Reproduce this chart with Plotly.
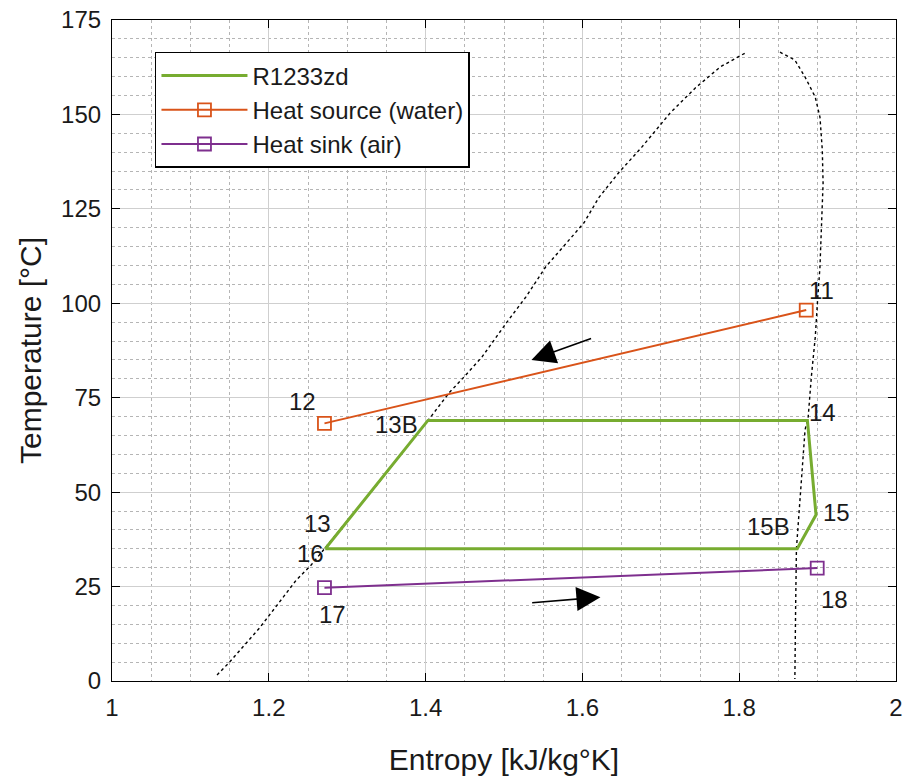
import plotly.graph_objects as go

# ---- data ----
cycle_s = [1.272, 1.403, 1.887, 1.898, 1.874, 1.272]
cycle_T = [35, 69, 69, 44, 35, 35]

source_s = [1.8855, 1.271]
source_T = [98.2, 68.2]

sink_s = [1.271, 1.8995]
sink_T = [24.7, 29.9]

dome_left_s = [1.134, 1.150, 1.169, 1.188, 1.201, 1.218, 1.235, 1.254, 1.271, 1.338, 1.405,
               1.430, 1.449, 1.472, 1.503, 1.528, 1.553, 1.602, 1.621, 1.646, 1.676, 1.712,
               1.744, 1.776, 1.808]
dome_left_T = [1.6, 5.0, 9.5, 14.0, 17.5, 22.0, 26.7, 30.7, 35.0, 52.0, 69.5,
               76.3, 80.5, 85.8, 94.8, 101.7, 109.6, 121.3, 128.0, 134.5, 141.4, 150.4,
               157.0, 162.6, 166.3]
dome_right_s = [1.852, 1.871, 1.884, 1.897, 1.903, 1.906, 1.907, 1.905, 1.903, 1.900, 1.897,
                1.892, 1.888, 1.884, 1.879, 1.875, 1.873, 1.872, 1.871]
dome_right_T = [166.5, 164.4, 159.9, 154.6, 149.3, 140.6, 131.8, 118.6, 109.6, 100.9, 91.0,
                80.5, 69.9, 66.5, 53.0, 40.0, 35.0, 20.0, 0.5]

point_labels = ["11", "12", "13B", "14", "13", "16", "15B", "15", "17", "18"]
label_s = [1.905, 1.243, 1.363, 1.906, 1.262, 1.253, 1.837, 1.924, 1.281, 1.922]
label_T = [103.5, 73.9, 68.0, 71.2, 41.8, 33.8, 40.8, 44.5, 17.5, 21.5]

# arrows: (tail_s, tail_T, head_s, head_T)
arrow_tail_s = [1.613, 1.534]
arrow_tail_T = [90.8, 20.7]
arrow_head_s = [1.535, 1.623]
arrow_head_T = [85.0, 22.2]

FONT = "Liberation Sans, Arial, Helvetica, sans-serif"
GREEN = "#77AC30"
ORANGE = "#D95319"
PURPLE = "#7E2F8E"
TXT = "#1a1a1a"

fig = go.Figure()

# saturation dome (dotted)
fig.add_trace(go.Scatter(x=dome_left_s + [None] + dome_right_s,
                         y=dome_left_T + [None] + dome_right_T,
                         mode="lines", line=dict(color="black", width=1.4, dash="dot"),
                         showlegend=False, hoverinfo="skip", connectgaps=False))

fig.add_trace(go.Scatter(x=cycle_s, y=cycle_T, mode="lines", name="R1233zd",
                         line=dict(color=GREEN, width=3)))
fig.add_trace(go.Scatter(x=source_s, y=source_T, mode="lines+markers", name="Heat source (water)",
                         line=dict(color=ORANGE, width=2),
                         marker=dict(symbol="square-open", size=13, color=ORANGE,
                                     line=dict(width=1.8, color=ORANGE))))
fig.add_trace(go.Scatter(x=sink_s, y=sink_T, mode="lines+markers", name="Heat sink (air)",
                         line=dict(color=PURPLE, width=2),
                         marker=dict(symbol="square-open", size=13, color=PURPLE,
                                     line=dict(width=1.8, color=PURPLE))))

for t, sx, ty in zip(point_labels, label_s, label_T):
    fig.add_annotation(x=sx, y=ty, text=t, showarrow=False, borderpad=0,
                       font=dict(family=FONT, size=24, color=TXT))

for ts, tT, hs, hT in zip(arrow_tail_s, arrow_tail_T, arrow_head_s, arrow_head_T):
    fig.add_annotation(x=hs, y=hT, ax=ts, ay=tT, xref="x", yref="y", axref="x", ayref="y",
                       text="", showarrow=True, arrowhead=2, arrowsize=3, arrowwidth=1.6,
                       arrowcolor="black")

axis_common = dict(
    showline=True, linecolor="black", linewidth=1.2, mirror="ticks",
    ticks="inside", ticklen=8, tickwidth=1.2, tickcolor="black",
    showgrid=True, gridcolor="#cfcfcf", gridwidth=1,
    zeroline=False, automargin=False, ticklabeloverflow="allow",
    tickfont=dict(family=FONT, size=24, color=TXT),
)

fig.update_xaxes(range=[1, 2], dtick=0.2, tick0=1, ticklabelstandoff=5,
                 minor=dict(dtick=0.05, showgrid=True, gridcolor="#b5b5b5", griddash="dot",
                            gridwidth=1, ticks=""),
                 title=dict(text="Entropy [kJ/kg°K]", font=dict(family=FONT, size=30, color=TXT),
                            standoff=30),
                 **axis_common)
fig.update_yaxes(range=[0, 175], dtick=25, tick0=0, ticklabelstandoff=5,
                 minor=dict(dtick=5, showgrid=True, gridcolor="#b5b5b5", griddash="dot",
                            gridwidth=1, ticks=""),
                 title=dict(text="Temperature [°C]", font=dict(family=FONT, size=30, color=TXT),
                            standoff=10),
                 **axis_common)

fig.update_layout(
    width=904, height=776,
    margin=dict(l=112, r=8, t=20, b=95),
    paper_bgcolor="white", plot_bgcolor="white",
    font=dict(family=FONT, size=24, color=TXT),
    legend=dict(x=0.0548, y=0.9516, xanchor="left", yanchor="top",
                bgcolor="white", bordercolor="black", borderwidth=1.5,
                font=dict(family=FONT, size=24, color=TXT),
                itemwidth=86, tracegroupgap=0),
    showlegend=True,
)

fig.write_html("out.html", config={"displayModeBar": False},
               post_script="document.body.style.margin='0';document.body.style.overflow='hidden';")
